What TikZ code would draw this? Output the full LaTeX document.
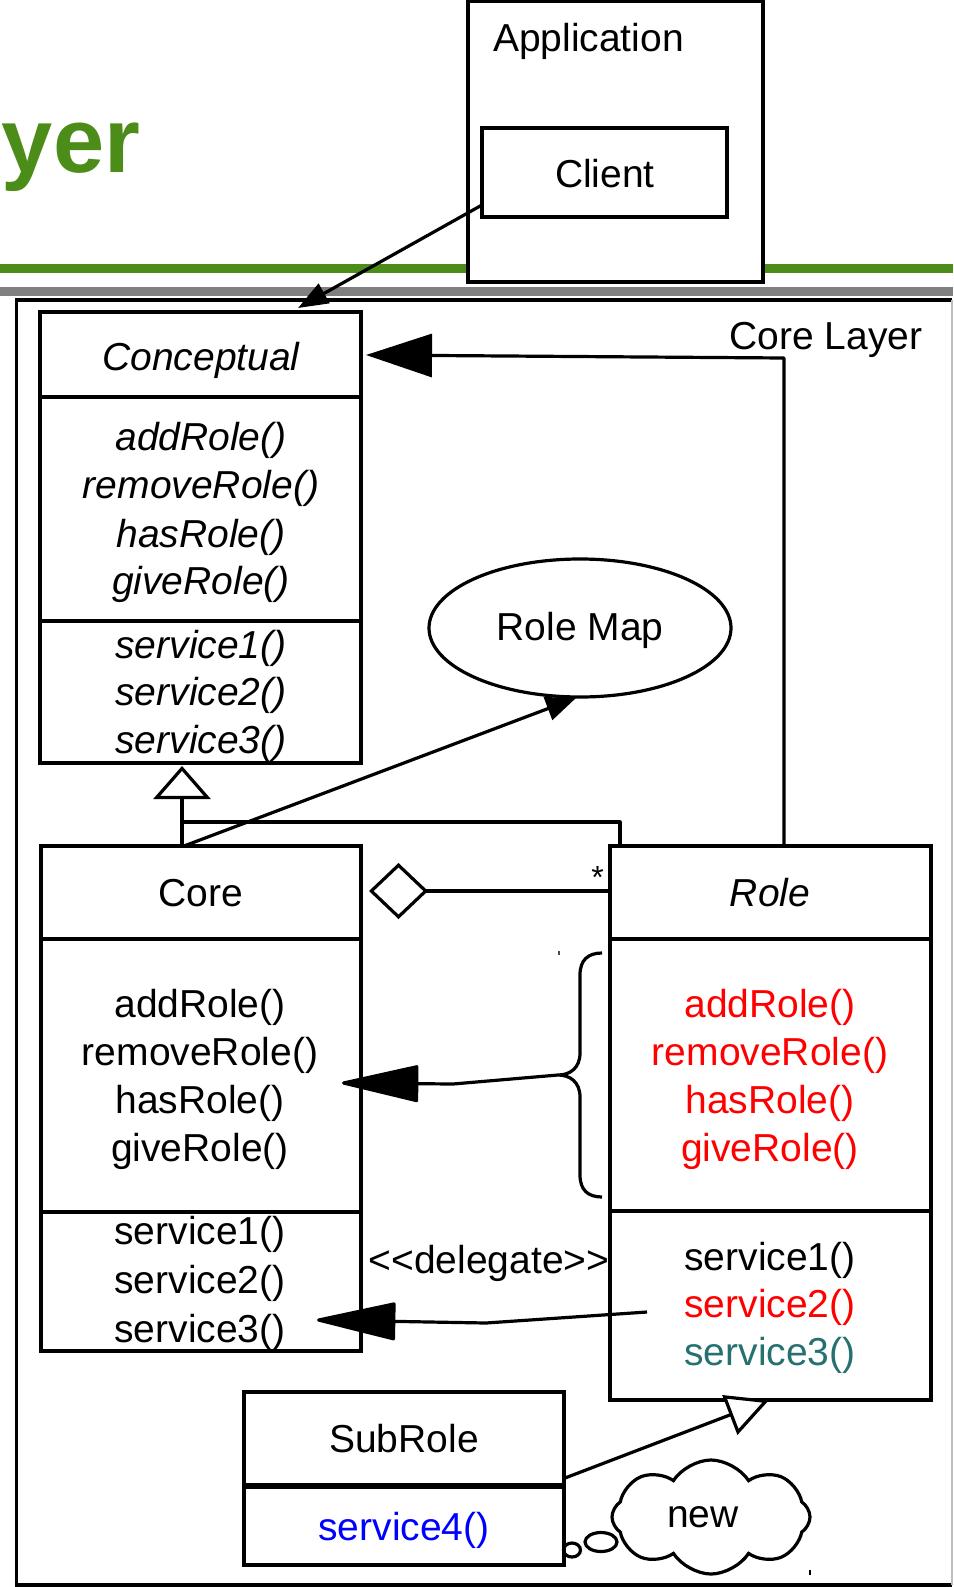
\documentclass[tikz,border=0pt]{standalone}
\usepackage{fontspec}
\setmainfont{Liberation Sans}
\usetikzlibrary{arrows.meta,shapes.geometric,shapes.symbols,calc}
\definecolor{ttlgreen}{RGB}{76,140,24}
\definecolor{sepgray}{RGB}{128,128,128}
\definecolor{tealc}{RGB}{38,112,112}
\definecolor{edgegray}{RGB}{190,190,190}
\begin{document}
\begin{tikzpicture}[x=1pt,y=-1pt,
  every node/.style={inner sep=0pt, outer sep=0pt},
  boxnode/.style={draw, line width=3.4pt, anchor=north west},
  txt/.style={anchor=base, font=\fontsize{39}{47}\selectfont},
  itxt/.style={anchor=base, font=\fontsize{39}{47}\selectfont\itshape},
  conn/.style={line width=3.2pt, line join=round},
  sepline/.style={line width=3.4pt}
]
\useasboundingbox (0,0) rectangle (953,1587);

% title fragment and header rules
\node[anchor=base east, font=\fontsize{92}{100}\selectfont\bfseries, text=ttlgreen] (title) at (140,172) {yer};
\draw[ttlgreen, line width=9pt] (0,268.5) -- (953,268.5);
\draw[sepgray, line width=9pt] (0,291.5) -- (953,291.5);

% Application
\node[boxnode, fill=white, minimum width=295pt, minimum height=281pt] (app) at (468,1) {};
\node[anchor=base west, font=\fontsize{39}{47}\selectfont] (appT) at (493,52) {Application};
\node[boxnode, minimum width=245pt, minimum height=89pt] (client) at (482,128) {};
\node[txt] (clientT) at (605,187) {Client};

% Core Layer frame
\draw[line width=3.2pt] (952,300) -- (16.5,300) -- (16.5,1585) -- (952,1585);
\draw[line width=1.5pt, edgegray] (952,300) -- (952,1585);
\node[txt] (layerT) at (826,349) {Core Layer};

% Conceptual
\node[boxnode, minimum width=321pt, minimum height=451pt] (concept) at (40,312) {};
\draw[sepline] (40,397) -- (361,397);
\draw[sepline] (40,621) -- (361,621);
\node[itxt] (conceptT) at (201,370) {Conceptual};
\foreach \t/\yy [count=\i] in {addRole()/450, removeRole()/498, hasRole()/547, giveRole()/594,
  service1()/658, service2()/705, service3()/753}
  \node[itxt] (cpm\i) at (201,\yy) {\t};

% Role Map
\node[draw, ellipse, line width=3.2pt, minimum width=302pt, minimum height=138pt] (rmap) at (580,628) {};
\node[txt] (rmapT) at (580,640) {Role Map};

% Core
\node[boxnode, minimum width=320pt, minimum height=505pt] (core) at (41,846) {};
\draw[sepline] (41,939) -- (361,939);
\draw[sepline] (41,1212) -- (361,1212);
\node[txt] (coreT) at (201,906) {Core};
\foreach \t/\yy [count=\i] in {addRole()/1017, removeRole()/1065, hasRole()/1113, giveRole()/1161,
  service1()/1244, service2()/1293, service3()/1342}
  \node[txt] (cm\i) at (200,\yy) {\t};

% Role
\node[boxnode, minimum width=321pt, minimum height=554pt] (role) at (610,846) {};
\draw[sepline] (610,939) -- (931,939);
\draw[sepline] (610,1211) -- (931,1211);
\node[itxt] (roleT) at (770,906) {Role};
\foreach \t/\yy [count=\i] in {addRole()/1017, removeRole()/1065, hasRole()/1113, giveRole()/1161}
  \node[txt, text=red] (rm\i) at (770,\yy) {\t};
\node[txt] (rs1) at (770,1270) {service1()};
\node[txt, text=red] (rs2) at (770,1317) {service2()};
\node[txt, text=tealc] (rs3) at (770,1365) {service3()};

% SubRole
\node[boxnode, minimum width=320pt, minimum height=173pt] (subrole) at (244,1392) {};
\draw[line width=6pt] (244,1486) -- (564,1486);
\node[txt] (subT) at (404,1452) {SubRole};
\node[txt, text=blue] (subS) at (404,1540) {service4()};

% cloud
\node[cloud, draw, line width=3.2pt, cloud puffs=8, cloud puff arc=115, minimum width=198pt, minimum height=114pt] (cloud) at (711,1517) {};
\node[txt] (newT) at (703,1527) {new};
\draw[line width=3.2pt] (601,1542) ellipse [x radius=16, y radius=9.5];
\draw[line width=3.2pt] (572,1550) ellipse [x radius=8.5, y radius=7];

% brace
\draw[line width=3.2pt] (602,953) .. controls (588,953) and (580,960) .. (580,975) -- (580,1053)
  .. controls (580,1068) and (570,1075) .. (558,1075)
  .. controls (570,1075) and (580,1082) .. (580,1097) -- (580,1175)
  .. controls (580,1190) and (588,1197) .. (602,1197);
\coordinate (bracetip) at (558,1075);

% delegate label and star
\node[txt] (delT) at (489,1273) {<\kern0pt<delegate>\kern0pt>};
\node[anchor=base, font=\fontsize{32}{34}\selectfont] (star) at (597.5,888) {*};

% connection points
\coordinate (clientOut) at ($(client.south west)+(0,-12)$);
\coordinate (conceptIn) at (298,308);
\coordinate (roleUp) at ($(role.north west)+(174,0)$);
\coordinate (roleBend) at (784,358);
\coordinate (conceptR) at (366,355);
\coordinate (coreUp) at ($(core.north west)+(141,0)$);
\coordinate (coreUp2) at ($(core.north west)+(143,0)$);
\coordinate (conceptB) at (182,766);
\coordinate (roleInh) at ($(role.north west)+(10,0)$);
\coordinate (inhBend) at (620,822);
\coordinate (inhJoin) at (182,822);
\coordinate (rmapIn) at (576,698);
\coordinate (roleL) at (role.west |- 0,891);
\coordinate (diamTip) at (369,891);
\coordinate (brBend) at (453,1084);
\coordinate (coreMth) at (342,1083);
\coordinate (delStart) at (647,1312);
\coordinate (delBend) at (486,1323);
\coordinate (coreSrv) at (317,1320);
\coordinate (subOut) at (565,1478);
\coordinate (roleB) at (769,1400);

% connectors
\draw[conn, -{Triangle[length=30pt,width=22pt]}] (clientOut) -- (conceptIn);
\draw[conn, -{Triangle[length=66pt,width=43pt]}] (roleUp) -- (roleBend) -- (conceptR);
\draw[conn] (roleInh) -- (inhBend) -- (inhJoin);
\draw[conn, -{Triangle[open,length=33pt,width=57pt,fill=white]}] (coreUp) -- (conceptB);
\draw[conn, -{Triangle[length=30pt,width=24pt]}] (coreUp2) -- (rmapIn);
\draw[conn, -{Diamond[open,length=59pt,width=56pt,fill=white]}] (roleL) -- (diamTip);
\draw[conn, -{Triangle[round,length=82pt,width=37pt]}] (bracetip) -- (brBend) -- (coreMth);
\draw[conn, -{Triangle[round,length=84pt,width=38pt]}] (delStart) -- (delBend) -- (coreSrv);
\draw[conn, -{Triangle[open,length=42pt,width=42pt,fill=white]}] (subOut) -- (roleB);

% stray marks
\draw[line width=1.2pt, black!70] (559,951) -- (559,955);
\draw[line width=1.5pt] (810,1570) -- (810,1575);
\end{tikzpicture}
\end{document}
